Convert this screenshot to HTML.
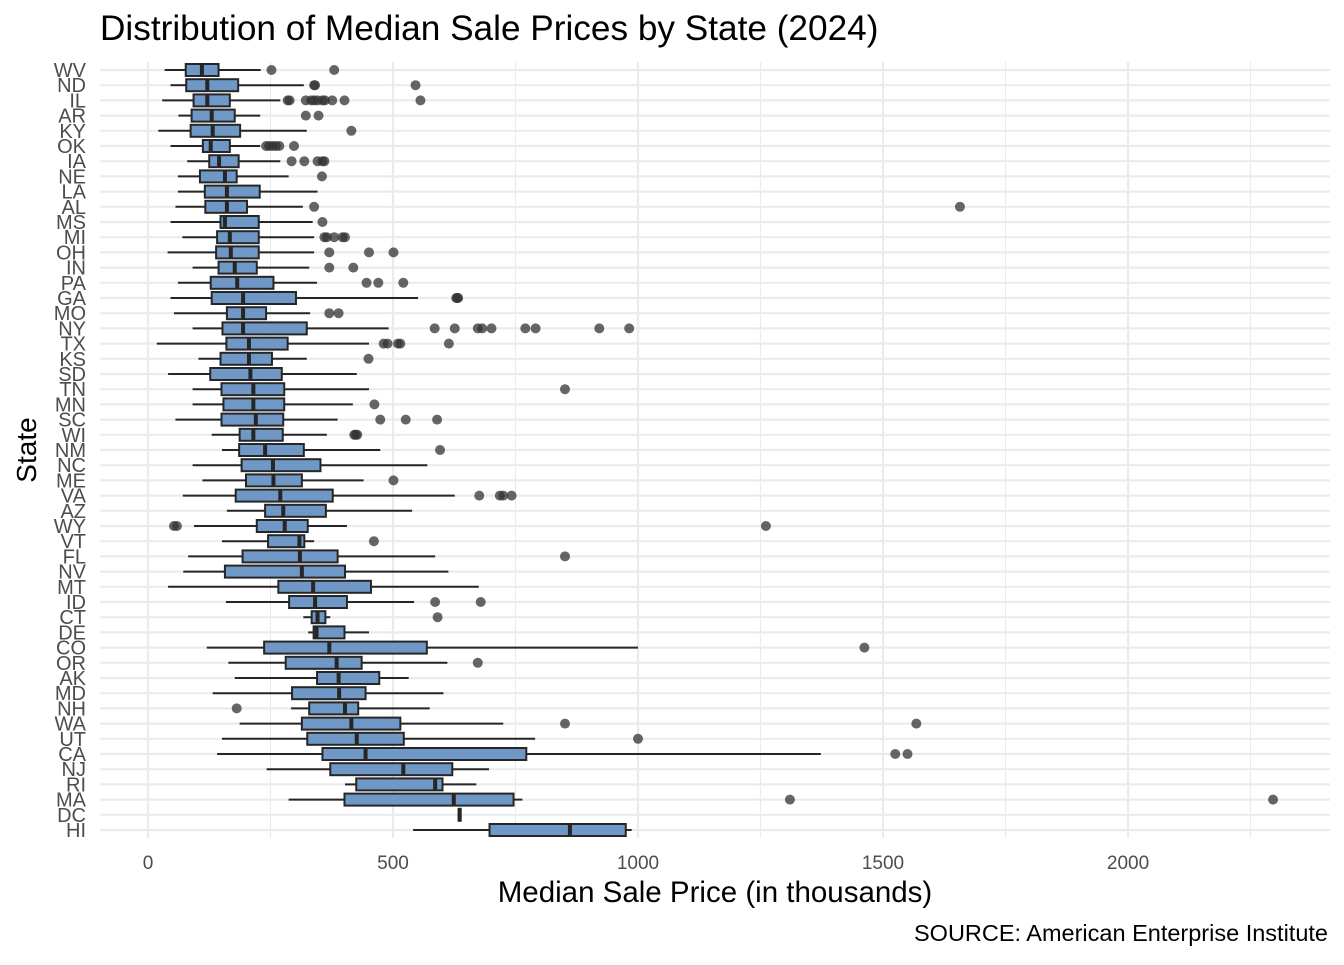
<!DOCTYPE html>
<html><head><meta charset="utf-8"><style>
body{margin:0;background:#fff;width:1344px;height:960px;overflow:hidden;font-family:"Liberation Sans",Arial,sans-serif}
</style></head><body>
<svg id="chart" width="1344" height="960" xmlns="http://www.w3.org/2000/svg" style="font-family:'Liberation Sans',Arial,sans-serif">
<text x="100" y="40" font-size="35.2" fill="#000">Distribution of Median Sale Prices by State (2024)</text>
<text x="715" y="902" font-size="29.5" text-anchor="middle" fill="#000">Median Sale Price (in thousands)</text>
<text transform="translate(36,450) rotate(-90)" font-size="28" text-anchor="middle" fill="#000">State</text>
<text x="1328" y="941" font-size="23.5" text-anchor="end" fill="#000">SOURCE: American Enterprise Institute</text>
<g id="grid"></g>
<g id="marks"></g>
<g id="labels"></g>
</svg>
<script>
const states=["WV","ND","IL","AR","KY","OK","IA","NE","LA","AL","MS","MI","OH","IN","PA","GA","MO","NY","TX","KS","SD","TN","MN","SC","WI","NM","NC","ME","VA","AZ","WY","VT","FL","NV","MT","ID","CT","DE","CO","OR","AK","MD","NH","WA","UT","CA","NJ","RI","MA","DC","HI"];
const whiskerLow=[34,46,29,62,21,46,80,61,61,56,46,70,40,91,61,46,53,91,18,103,41,91,91,56,130,151,91,111,71,161,94,151,82,72,41,159,317,327,120,164,177,132,292,187,151,141,242,402,287,634,541];
const q1=[77,78,93,89,87,112,125,106,116,117,148,141,139,144,128,130,161,152,160,148,127,150,154,150,187,186,191,200,179,239,222,245,193,157,266,288,334,338,237,281,345,294,329,314,325,356,372,425,401,634,697];
const median=[110,121,121,130,132,128,145,157,161,161,157,167,169,177,182,194,194,194,206,206,209,215,215,220,215,239,255,256,270,276,279,309,310,314,337,341,346,344,370,385,389,390,402,415,426,444,521,586,624,636,861];
const q3=[144,184,167,177,188,167,185,181,228,202,226,226,226,222,256,302,241,324,285,253,273,278,278,276,275,318,352,314,377,363,326,319,387,402,455,406,362,401,569,436,472,444,429,515,522,772,621,601,746,638,975];
const whiskerHigh=[230,318,270,229,324,229,270,287,346,316,336,339,339,329,345,551,331,491,451,324,426,451,418,387,365,474,570,440,626,539,406,339,586,613,675,543,372,451,1000,611,532,603,575,725,790,1373,696,670,764,638,987];
const outliers=[[252,380],[339,341,546],[285,289,322,333,339,346,356,361,376,401,556],[322,348],[415],[241,247,254,261,268,298],[293,319,346,356,360],[355],[],[339,1657],[356],[360,365,380,397,402],[370,451,501],[370,419],[446,470,521],[629,631,633],[370,389],[585,626,673,682,701,770,791,921,982],[481,489,510,515,614],[450],[],[851],[462],[474,526,590],[421,424,427],[596],[],[501],[676,718,725,742],[],[53,59,1261],[461],[851],[],[],[586,679],[591],[],[1462],[673],[],[],[181],[851,1568],[1000],[1525,1550],[],[],[1310,2296],[],[]];
const xTicks=[0,500,1000,1500,2000];
const xMinor=[250,750,1250,1750,2250];

const NS="http://www.w3.org/2000/svg";
const X0=100,X1=1330,Y0=62,Y1=838;
const vmin=-97.96,vmax=2412.2;
function xs(v){return X0+(v-vmin)/(vmax-vmin)*(X1-X0);}
function ys(i){return 70+i*(830-70)/(states.length-1);}
function mk(tag,attrs,parent){const e=document.createElementNS(NS,tag);for(const k in attrs)e.setAttribute(k,attrs[k]);parent.appendChild(e);return e;}
const grid=document.getElementById('grid'),marks=document.getElementById('marks'),labels=document.getElementById('labels');
xMinor.forEach(t=>{const l=mk('line',{x1:xs(t),x2:xs(t),y1:Y0,y2:Y1,stroke:'#ebebeb','stroke-width':1.1},grid);

});
xTicks.forEach(t=>{const l=mk('line',{x1:xs(t),x2:xs(t),y1:Y0,y2:Y1,stroke:'#ebebeb','stroke-width':2.2},grid);


const tx=mk('text',{x:xs(t),y:869,'font-size':19,'text-anchor':'middle',fill:'#4d4d4d'},labels);
tx.textContent=t;

});
states.forEach((s,i)=>{const y=ys(i);
const l=mk('line',{x1:X0,x2:X1,y1:y,y2:y,stroke:'#ebebeb','stroke-width':2.2},grid);


const tx=mk('text',{x:86,y:y+7,'font-size':20,'text-anchor':'end',fill:'#4d4d4d'},labels);
tx.textContent=s;


const g=mk('g',{},marks);


mk('line',{x1:xs(whiskerLow[i]),x2:xs(q1[i]),y1:y,y2:y,stroke:'#262626','stroke-width':2},g);
mk('line',{x1:xs(q3[i]),x2:xs(whiskerHigh[i]),y1:y,y2:y,stroke:'#262626','stroke-width':2},g);
mk('rect',{x:xs(q1[i]),y:y-6,width:Math.max(xs(q3[i])-xs(q1[i]),0.5),height:12,fill:'#6f98c6',stroke:'#262626','stroke-width':2},g);
mk('line',{x1:xs(median[i]),x2:xs(median[i]),y1:y-6,y2:y+6,stroke:'#262626','stroke-width':4},g);
outliers[i].forEach(v=>{const c=mk('circle',{cx:xs(v),cy:y,r:5,fill:'#333','fill-opacity':0.75},g);

});
});
</script>
</body></html>
